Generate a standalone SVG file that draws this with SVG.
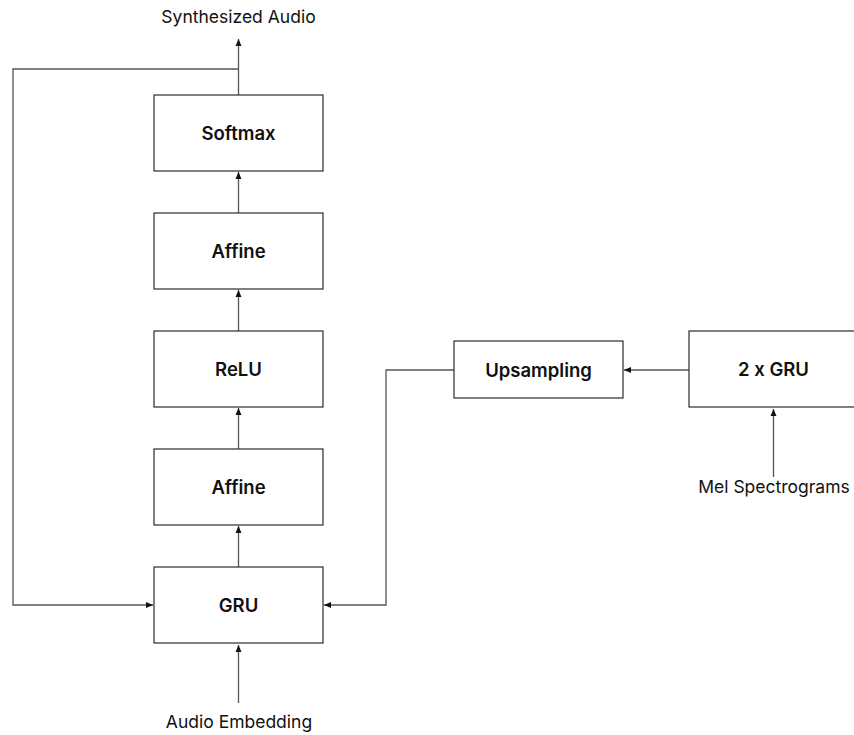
<svg xmlns="http://www.w3.org/2000/svg" width="854" height="735" viewBox="0 0 854 735">
<style>
.box{fill:#fff;stroke:#2b2b2b;stroke-width:1.2}
.lbl{font-family:Inter,"Liberation Sans",Arial,sans-serif;font-size:18.5px;font-weight:600;fill:#111;text-anchor:middle}
.io{font-family:Inter,"Liberation Sans",Arial,sans-serif;font-size:17.5px;fill:#111;text-anchor:middle}
.c{fill:none;stroke:#555;stroke-width:1.3}
</style>
<defs>
<marker id="ah" markerUnits="userSpaceOnUse" markerWidth="8" markerHeight="8" viewBox="0 0 8 8" refX="7" refY="4" orient="auto">
<path d="M0,1 L7,4 L0,7 Z" fill="#111"/>
</marker>
</defs>
<rect width="854" height="735" fill="#fff"/>
<g id="connectors">
<path class="c" d="M238.5,95 V39" marker-end="url(#ah)"/>
<path class="c" d="M238.5,213 V172" marker-end="url(#ah)"/>
<path class="c" d="M238.5,331 V290" marker-end="url(#ah)"/>
<path class="c" d="M238.5,449 V408" marker-end="url(#ah)"/>
<path class="c" d="M238.5,567 V526" marker-end="url(#ah)"/>
<path class="c" d="M238.5,69 H13 V605 H153" marker-end="url(#ah)"/>
<path class="c" d="M238.5,703 V645" marker-end="url(#ah)"/>
<path class="c" d="M689,370 H624" marker-end="url(#ah)"/>
<path class="c" d="M454,370 H386 V605 H324" marker-end="url(#ah)"/>
<path class="c" d="M773.5,477 V409" marker-end="url(#ah)"/>
</g>
<g id="softmax"><rect class="box" x="154" y="95" width="169" height="76"/><text class="lbl" x="238.5" y="140">Softmax</text></g>
<g id="affine1"><rect class="box" x="154" y="213" width="169" height="76"/><text class="lbl" x="238.5" y="258">Affine</text></g>
<g id="relu"><rect class="box" x="154" y="331" width="169" height="76"/><text class="lbl" x="238.5" y="376">ReLU</text></g>
<g id="affine2"><rect class="box" x="154" y="449" width="169" height="76"/><text class="lbl" x="238.5" y="494">Affine</text></g>
<g id="gru"><rect class="box" x="154" y="567" width="169" height="76"/><text class="lbl" x="238.5" y="612">GRU</text></g>
<g id="upsampling"><rect class="box" x="454" y="341" width="169" height="57"/><text class="lbl" x="538.5" y="376.5">Upsampling</text></g>
<g id="gru2"><rect class="box" x="689" y="331" width="169" height="76"/><text class="lbl" x="773.5" y="376">2 x GRU</text></g>
<g id="synth"><text class="io" x="238.5" y="23">Synthesized Audio</text></g>
<g id="audioemb"><text class="io" x="239" y="728">Audio Embedding</text></g>
<g id="mel"><text class="io" x="774" y="493">Mel Spectrograms</text></g>
</svg>
